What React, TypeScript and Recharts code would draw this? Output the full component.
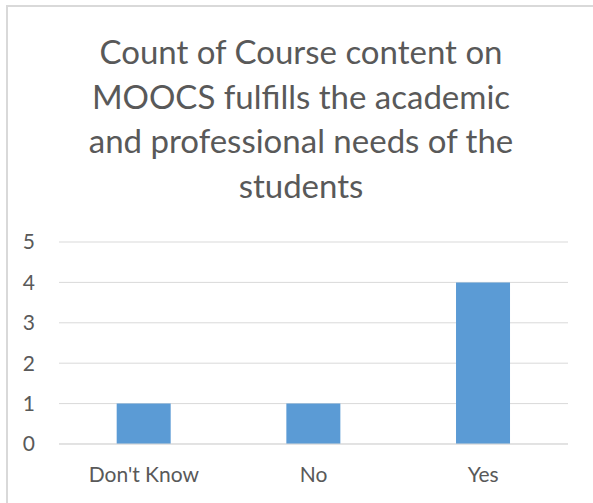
import { Bar, BarChart, CartesianGrid, XAxis, YAxis } from 'recharts';

const answers = ["Don't Know", 'No', 'Yes'];
const counts = [1, 1, 4];
const yTicks = [0, 1, 2, 3, 4, 5];
const titleLines = [
    'Count of Course content on',
    'MOOCS fulfills the academic',
    'and professional needs of the',
    'students',
];

const data = answers.map((answer, i) => ({ answer, count: counts[i] }));

const font = 'Lato, "Open Sans", sans-serif';
const textColor = '#595959';

export default function App() {
    return (
        <div style={{ position: 'fixed', left: 0, top: 0, width: 593, height: 503, background: '#fff', overflow: 'hidden', fontFamily: font }}>
            <div style={{ position: 'absolute', left: 6, top: 5, width: 620, height: 530, border: '2px solid #d9d9d9', boxSizing: 'border-box' }} />
            <div style={{ position: 'absolute', left: 0, top: 29, width: 602, textAlign: 'center', color: textColor, fontSize: 33, lineHeight: '44.7px' }}>
                {titleLines.map((line) => (
                    <div key={line}>{line}</div>
                ))}
            </div>
            <div style={{ position: 'absolute', left: 0, top: 0 }}>
                <BarChart width={593} height={503} data={data} margin={{ top: 242, right: 25, bottom: 29, left: 0 }} barCategoryGap="34%">
                    <CartesianGrid vertical={false} stroke="#d9d9d9" />
                    <XAxis
                        dataKey="answer"
                        axisLine={{ stroke: '#d9d9d9' }}
                        tickLine={false}
                        tickSize={15}
                        tickMargin={8}
                        tick={{ fill: textColor, fontSize: 21, fontFamily: font }}
                    />
                    <YAxis
                        width={59}
                        domain={[0, 5]}
                        ticks={yTicks}
                        axisLine={false}
                        tickLine={false}
                        tickSize={16}
                        tickMargin={8}
                        tick={{ fill: textColor, fontSize: 21, fontFamily: font }}
                    />
                    <Bar dataKey="count" fill="#5b9bd5" isAnimationActive={false} />
                </BarChart>
            </div>
        </div>
    );
}
